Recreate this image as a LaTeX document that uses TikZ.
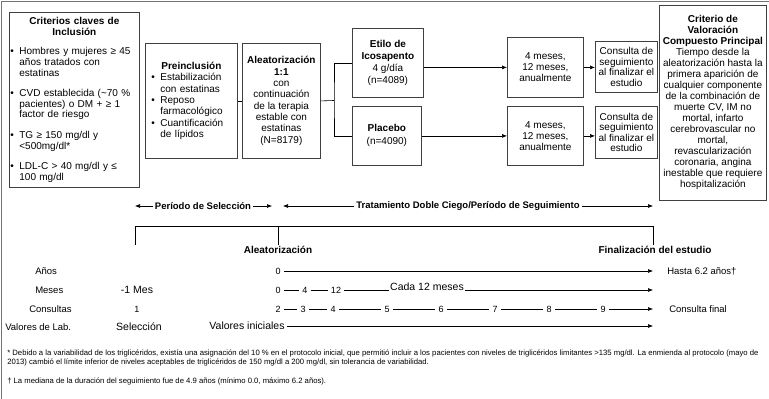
\documentclass[tikz,border=0pt]{standalone}
\usepackage{fontspec}
\setmainfont{Liberation Sans}
\usetikzlibrary{arrows,arrows.meta,positioning}

\newcommand{\bl}{\makebox[9pt][l]{\textbullet}}
\newcommand{\ind}{\hspace*{9pt}}

\begin{document}
\begin{tikzpicture}[x=1pt,y=-1pt,>={Latex[length=5pt,width=4pt]},line width=0.6pt,
  box/.style={draw=black!75,line width=0.8pt,inner sep=1pt,align=center,font=\fontsize{10}{10.6}\selectfont},
  lbl/.style={font=\fontsize{9.5}{11}\selectfont,anchor=west,inner sep=0pt},
  num/.style={font=\fontsize{9}{10}\selectfont,inner sep=3pt},
  big/.style={font=\fontsize{10.5}{12}\selectfont},
  hdr/.style={font=\fontsize{10}{12}\selectfont\bfseries},
  per/.style={font=\fontsize{9.5}{11}\selectfont\bfseries,inner sep=2pt},
  note/.style={font=\fontsize{7.7}{9}\selectfont,anchor=west,inner sep=0pt}]
\useasboundingbox (0,0) rectangle (769,399);
\draw[black!55] (1,399) -- (1,1) -- (769,1);

% boxes of the design
\node[box,anchor=north west,text width=128pt,minimum height=175pt,align=left] (incl) at (9,12) {%
  {\centering\bfseries Criterios claves de\\Inclusión\par}\vspace{9pt}
  \bl Hombres y mujeres ≥ 45\\\ind años tratados con\\\ind estatinas\\[10pt]
  \bl CVD establecida (\textasciitilde70 \%\\\ind pacientes) o DM + ≥ 1\\\ind factor de riesgo\\[10pt]
  \bl TG ≥ 150 mg/dl y\\\ind <500mg/dl*\\[10pt]
  \bl LDL-C > 40 mg/dl y ≤\\\ind 100 mg/dl};
\node[box,anchor=north west,text width=80pt,minimum width=92pt,minimum height=115pt,align=left,font=\fontsize{10}{11.3}\selectfont] (pre) at (145,43) {%
  {\centering\bfseries Preinclusión\par}
  \bl Estabilización\\\ind con estatinas\\
  \bl Reposo\\\ind farmacológico\\
  \bl Cuantificación\\\ind de lípidos};
\node[box,anchor=north west,minimum width=78pt,minimum height=115pt,font=\fontsize{10}{11.3}\selectfont] (alea) at (242,43)
  {\textbf{Aleatorización}\\\textbf{1:1}\\con\\continuación\\de la terapia\\estable con\\estatinas\\(N=8179)};
\node[box,anchor=north west,minimum width=71pt,minimum height=69pt,font=\fontsize{10}{12}\selectfont] (etilo) at (352,28)
  {\textbf{Etilo de}\\\textbf{Icosapento}\\4 g/día\\(n=4089)};
\node[box,anchor=north west,minimum width=69pt,minimum height=59pt,font=\fontsize{10}{13}\selectfont] (placebo) at (352,106)
  {\textbf{Placebo}\\(n=4090)};
\node[box,anchor=north west,minimum width=76pt,minimum height=60pt,font=\fontsize{10}{11}\selectfont] (freq1) at (507,37)
  {4 meses,\\12 meses,\\anualmente};
\node[box,anchor=north west,minimum width=76pt,minimum height=59pt,font=\fontsize{10}{11}\selectfont] (freq2) at (507,106)
  {4 meses,\\12 meses,\\anualmente};
\node[box,anchor=north west,minimum width=62pt,minimum height=51pt] (consulta1) at (595,41)
  {Consulta de\\seguimiento\\al finalizar el\\estudio};
\node[box,anchor=north west,minimum width=62pt,minimum height=52pt] (consulta2) at (595,106)
  {Consulta de\\seguimiento\\al finalizar el\\estudio};
\node[box,anchor=north west,minimum width=107pt,minimum height=195pt,font=\fontsize{10}{11}\selectfont] (crit) at (659,5)
  {\textbf{Criterio de}\\\textbf{Valoración}\\\textbf{Compuesto Principal}\\Tiempo desde la\\aleatorización hasta la\\primera aparición de\\cualquier componente\\de la combinación de\\muerte CV, IM no\\mortal, infarto\\cerebrovascular no\\mortal,\\revascularización\\coronaria, angina\\inestable que requiere\\hospitalización};

\coordinate (split) at (334,100.5);
\draw (pre) -- (alea);
\draw (alea.east) -- (split);
\draw (etilo.west) -| (split) |- (placebo.west);
\draw[->] (etilo.east |- freq1.west) -- (freq1.west);
\draw[->] (placebo.east |- freq2.west) -- (freq2.west);
\draw[->] (freq1.east) -- (freq1.east -| consulta1.west);
\draw[->] (freq2.east) -- (freq2.east -| consulta2.west);

% periods and time line
\coordinate (tL) at (135,226);
\coordinate (tA) at (278,226);
\coordinate (tF) at (653,226);
\coordinate (s1) at (135,206);
\coordinate (s2) at (272,206);
\coordinate (t1) at (283,206);
\coordinate (t2) at (653,206);
\node[per] (sel) at (203,206) {Período de Selección};
\node[per] (trat) at (468,206) {Tratamiento Doble Ciego/Período de Seguimiento};
\draw[->] (sel) -- (s1);
\draw[->] (sel) -- (s2);
\draw[->] (trat) -- (t1);
\draw[->] (trat) -- (t2);
\draw[line width=0.9pt] ([yshift=-19pt]tL) -- (tL) -- (tF) -- ([yshift=-19pt]tF);
\draw[line width=0.9pt] (tA) -- ([yshift=-19pt]tA);
\node[hdr] (aleat) at (278,250) {Aleatorización};
\node[hdr] (fin) at (655,250) {Finalización del estudio};

\node[lbl] (anos) at (35,271) {Años};
\node[num] (a0) at (278,271) {0};
\draw[->] (a0) -- (a0 -| tF);
\node[lbl] (hasta) at (667,271) {Hasta 6.2 años†};

\node[lbl] (meses) at (35,290) {Meses};
\node[big] (mes1) at (137,290) {-1 Mes};
\node[num] (me0) at (278,290) {0};
\node[num] (me4) at (305,290) {4};
\node[num] (me12) at (336,290) {12};
\node[big,inner sep=1pt] (cada) at (427,287) {Cada 12 meses};
\draw (me0) -- (me4);
\draw (me4) -- (me12);
\draw (me12) -- (me12 -| cada.west);
\draw[->] (cada.east |- me12) -- (me12 -| tF);

\node[lbl] (cons) at (29,309) {Consultas};
\node[num] (v1) at (137,309) {1};
\foreach \n/\x in {2/278,3/303,4/333,5/387,6/441,7/495,8/549,9/603}
  \node[num] (v\n) at (\x,309) {\n};
\foreach \a/\b in {2/3,3/4,4/5,5/6,6/7,7/8,8/9}
  \draw (v\a) -- (v\b);
\draw[->] (v9) -- (v9 -| tF);
\node[lbl] (cfinal) at (669,309) {Consulta final};

\node[lbl] (lab) at (5,327) {Valores de Lab.};
\node[big] (sel2) at (139,327) {Selección};
\node[big,inner sep=2pt] (vini) at (247,326) {Valores iniciales};
\draw[->] (vini.east) -- (vini.east -| tF);

% notes
\node[note] (fn1) at (7,353) {* Debido a la variabilidad de los triglicéridos, existía una asignación del 10 \% en el protocolo inicial, que permitió incluir a los pacientes con niveles de triglicéridos limitantes >135 mg/dl. La enmienda al protocolo (mayo de};
\node[note] (fn2) at (7,362) {2013) cambió el límite inferior de niveles aceptables de triglicéridos de 150 mg/dl a 200 mg/dl, sin tolerancia de variabilidad.};
\node[note] (fn3) at (7,381) {† La mediana de la duración del seguimiento fue de 4.9 años (mínimo 0.0, máximo 6.2 años).};
\end{tikzpicture}
\end{document}
